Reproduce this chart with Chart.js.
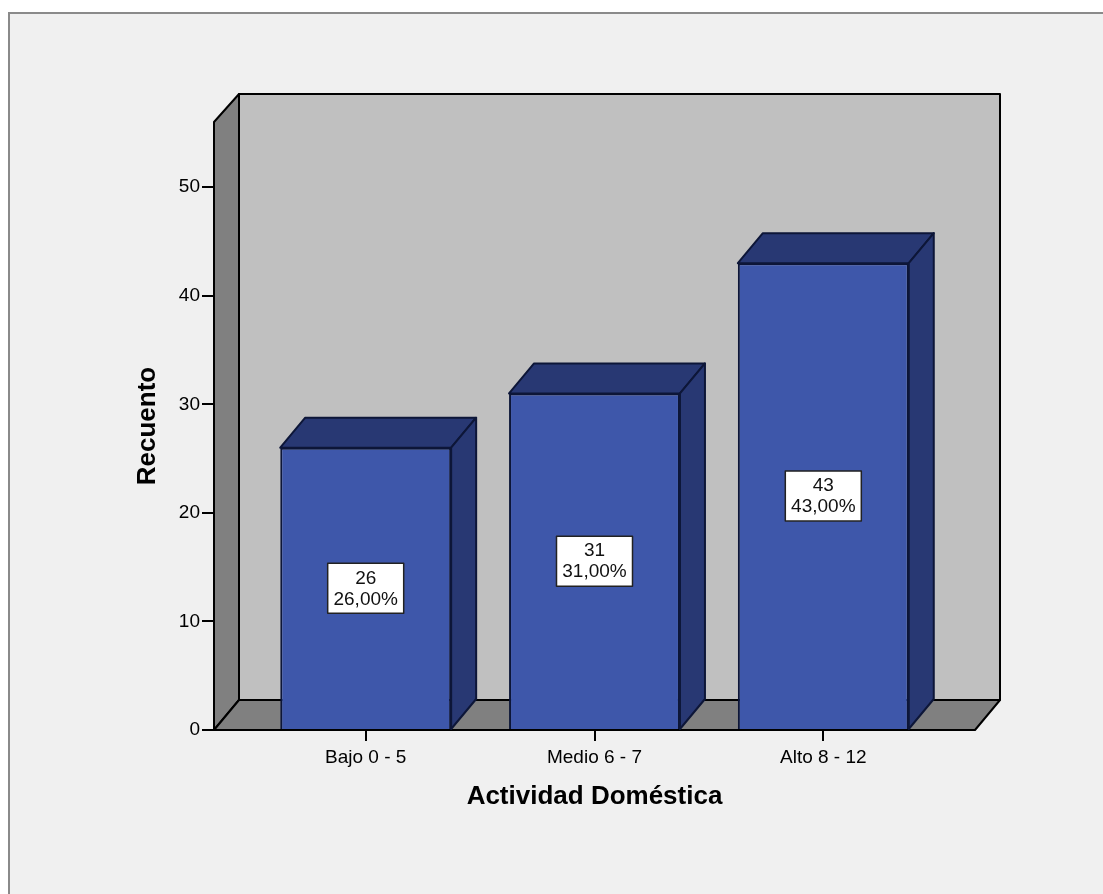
<!DOCTYPE html>
<html lang="es">
  <head>
    <meta charset="UTF-8" />
    <title>Actividad Doméstica</title>
    <style>
      body { margin: 0; background: #fff; width: 1103px; height: 894px; overflow: hidden; position: relative; }
      .frame { position: absolute; left: 8px; top: 12px; width: 1120px; height: 900px;
        background: #f0f0f0; border-top: 2px solid #8a8a8a; border-left: 2px solid #8a8a8a; }
      #chart { position: absolute; left: 0; top: 0; }
    </style>
  </head>
  <body>
    <div class="frame"></div>
    <canvas id="chart" width="1103" height="894"></canvas>
    <script src="https://cdn.jsdelivr.net/npm/chart.js"></script>
    <script>
      const categories = ["Bajo 0 - 5", "Medio 6 - 7", "Alto 8 - 12"];
      const counts = [26, 31, 43];
      const yTicks = [0, 10, 20, 30, 40, 50];

      const total = counts.reduce((a, b) => a + b, 0);
      const DX = 25, DY = -30; // 3d depth

      Chart.defaults.font.family = "'Liberation Sans', Arial, sans-serif";
      Chart.defaults.color = "#000";

      const poly = (ctx, pts, fill) => {
        ctx.beginPath();
        ctx.moveTo(pts[0][0], pts[0][1]);
        for (let i = 1; i < pts.length; i++) ctx.lineTo(pts[i][0], pts[i][1]);
        ctx.closePath();
        ctx.fillStyle = fill;
        ctx.fill();
        ctx.stroke();
      };

      const box3d = {
        id: "box3d",
        beforeDatasetsDraw(chart) {
          const { ctx, chartArea: a } = chart;
          const yb = chart.scales.y.getPixelForValue(0);
          const yt = a.top;
          ctx.save();
          ctx.lineWidth = 2;
          ctx.strokeStyle = "#000";
          ctx.lineJoin = "round";
          // back wall
          poly(ctx, [[a.left + DX, yt + DY + 2], [a.right + DX, yt + DY + 2], [a.right + DX, yb + DY], [a.left + DX, yb + DY]], "#c0c0c0");
          // left wall
          poly(ctx, [[a.left, yt], [a.left + DX, yt + DY + 2], [a.left + DX, yb + DY], [a.left, yb]], "#808080");
          // floor
          poly(ctx, [[a.left, yb], [a.left + DX, yb + DY], [a.right + DX, yb + DY], [a.right, yb]], "#808080");
          ctx.restore();
        },
        afterDatasetsDraw(chart) {
          const { ctx } = chart;
          const meta = chart.getDatasetMeta(0);
          ctx.save();
          meta.data.forEach((bar, i) => {
            const l = bar.x - bar.width / 2, r = bar.x + bar.width / 2;
            const t = bar.y, b = bar.base;
            ctx.lineWidth = 2;
            ctx.strokeStyle = "#0d1638";
            ctx.lineJoin = "round";
            poly(ctx, [[l, t], [l + DX, t + DY], [r + DX, t + DY], [r, t]], "#283873");
            poly(ctx, [[r, t], [r + DX, t + DY], [r + DX, b + DY], [r, b]], "#283873");

            // value label
            const cy = (t + b) / 2;
            const w = 76, h = 50;
            ctx.fillStyle = "#fff";
            ctx.strokeStyle = "#222";
            ctx.lineWidth = 1.5;
            ctx.fillRect(bar.x - w / 2, cy - h / 2, w, h);
            ctx.strokeRect(bar.x - w / 2, cy - h / 2, w, h);
            ctx.fillStyle = "#111";
            ctx.font = "19px 'Liberation Sans', Arial, sans-serif";
            ctx.textAlign = "center";
            ctx.textBaseline = "middle";
            const pct = ((counts[i] / total) * 100).toFixed(2).replace(".", ",") + "%";
            ctx.fillText(String(counts[i]), bar.x, cy - 10);
            ctx.fillText(pct, bar.x, cy + 11);
          });
          ctx.restore();
        },
      };

      new Chart(document.getElementById("chart"), {
        type: "bar",
        data: {
          datasets: [
            {
              data: counts.map((v, i) => ({ x: i, y: v })),
              backgroundColor: "#3e57aa",
              borderColor: "#0d1638",
              borderWidth: 2,
              barPercentage: 0.747,
              categoryPercentage: 1,
            },
          ],
        },
        options: {
          responsive: false,
          animation: false,
          devicePixelRatio: 1,
          layout: { padding: { top: 122, right: 128, bottom: 82, left: 0 } },
          plugins: { legend: { display: false }, tooltip: { enabled: false } },
          scales: {
            x: {
              type: "linear",
              offset: false,
              min: -0.663,
              max: 2.663,
              afterFit: (s) => { s.height = 82; },
              grid: { offset: false, drawOnChartArea: false, tickLength: 11, color: "#000", lineWidth: 2 },
              border: { display: false },
              ticks: {
                stepSize: 1,
                includeBounds: false,
                padding: 5,
                font: { size: 19 },
                callback: (v) => categories[v] ?? "",
              },
              title: {
                display: true,
                text: "Actividad Doméstica",
                font: { size: 26, weight: "bold" },
                padding: { top: 0, bottom: 0 },
              },
            },
            y: {
              min: 0,
              max: 56,
              afterFit: (s) => { s.width = 214; },
              afterBuildTicks: (s) => { s.ticks = yTicks.map((v) => ({ value: v })); },
              grid: { drawOnChartArea: false, tickLength: 12, color: "#000", lineWidth: 2 },
              border: { display: false },
              ticks: { padding: 2, font: { size: 19 } },
              title: {
                display: true,
                text: "Recuento",
                font: { size: 26, weight: "bold" },
                padding: { top: 132, bottom: 0 },
              },
            },
          },
        },
        plugins: [box3d],
      });
    </script>
  </body>
</html>
